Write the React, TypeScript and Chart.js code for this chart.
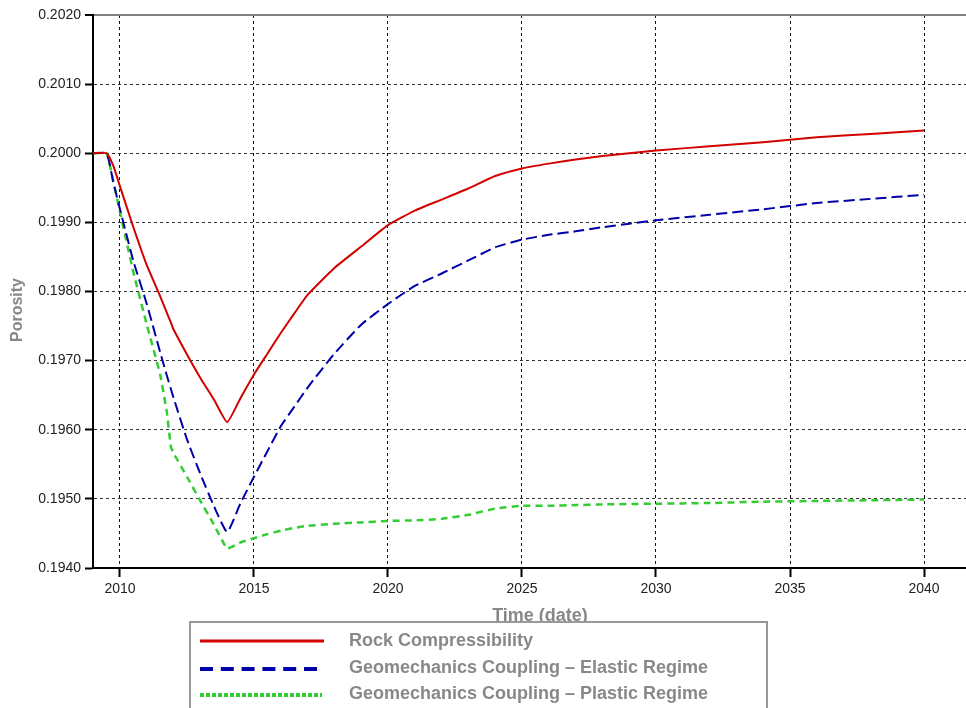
import React, { useEffect, useRef } from 'react';
import { Chart, registerables } from 'chart.js';

Chart.register(...registerables);

// ---- data ----
const years = [
  2009.0, 2009.5, 2009.75, 2010.0, 2010.5, 2011.0, 2011.5, 2011.75, 2011.9, 2012.0,
  2012.5, 2013.0, 2013.5, 2014.0, 2014.5, 2015.0, 2015.5, 2016.0, 2016.5, 2017.0,
  2018, 2019, 2020, 2021, 2022, 2023, 2024, 2025, 2026, 2027, 2028,
  2030, 2032, 2034, 2036, 2038, 2040,
];

const rockCompressibility = [
  0.2000, 0.2000, 0.19982, 0.19952, 0.19893, 0.19838, 0.19793, 0.19769, 0.19755, 0.19745,
  0.19709, 0.19675, 0.19644, 0.19611, 0.19646, 0.19680, 0.19710, 0.19740, 0.19768, 0.19795,
  0.19834, 0.19865, 0.19896, 0.19917, 0.19933, 0.19949, 0.19967, 0.19978, 0.19985, 0.19991, 0.19996,
  0.20004, 0.20010, 0.20016, 0.20023, 0.20028, 0.20033,
];

const elasticRegime = [
  0.2000, 0.2000, 0.19958, 0.19919, 0.19844, 0.19782, 0.19712, 0.19678, 0.19659, 0.19646,
  0.19586, 0.19536, 0.19490, 0.19452, 0.19494, 0.19532, 0.19569, 0.19605, 0.19633, 0.19661,
  0.19710, 0.19752, 0.19782, 0.19808, 0.19826, 0.19845, 0.19864, 0.19875, 0.19882, 0.19887, 0.19893,
  0.19903, 0.19911, 0.19919, 0.19928, 0.19934, 0.19940,
];

const plasticRegime = [
  0.2000, 0.2000, 0.19960, 0.19915, 0.19828, 0.19752, 0.19680, 0.19625, 0.19575, 0.19566,
  0.19532, 0.19497, 0.19463, 0.19428, 0.19437, 0.19443, 0.19449, 0.19454, 0.19458, 0.19461,
  0.19464, 0.19466, 0.19468, 0.19469, 0.19471, 0.19477, 0.19486, 0.19490, 0.19490, 0.19491, 0.19492,
  0.19493, 0.19494, 0.19496, 0.19497, 0.19498, 0.19499,
];

const seriesLabels = [
  'Rock Compressibility',
  'Geomechanics Coupling – Elastic Regime',
  'Geomechanics Coupling – Plastic Regime',
];

const xTitle = 'Time (date)';
const yTitle = 'Porosity';

const X_MIN = 2008.993;
const X_MAX = 2041.567;
const X_STEP = 5;
const Y_MIN = 0.194;
const Y_MAX = 0.202;
const Y_STEP = 0.001;

// ---- styles ----
const FONT = '"Liberation Sans", Arial, Helvetica, sans-serif';
const RED = '#d40000';
const BLUE = '#0000a8';
const GREEN = '#33cc33';

const legendStyles = [
  { color: RED, width: 3, dash: [] as number[], x2: 324 },
  { color: BLUE, width: 4, dash: [13, 7.8], x2: 318 },
  { color: GREEN, width: 4, dash: [4, 2], x2: 322 },
];

const toXY = (vals: number[]) => years.map((y, i) => ({ x: y, y: vals[i] }));

const overlayPlugin = {
  id: 'overlay',
  afterDraw(chart: any) {
    const ctx: CanvasRenderingContext2D = chart.ctx;
    ctx.save();
    // axis titles
    ctx.fillStyle = '#888888';
    ctx.textAlign = 'center';
    ctx.textBaseline = 'middle';
    ctx.font = `bold 16px ${FONT}`;
    ctx.save();
    ctx.translate(18, 310);
    ctx.rotate(-Math.PI / 2);
    ctx.fillText(yTitle, 0, 0);
    ctx.restore();
    ctx.font = `bold 18px ${FONT}`;
    ctx.textBaseline = 'alphabetic';
    ctx.fillText(xTitle, 540, 621);

    // legend box
    ctx.fillStyle = '#ffffff';
    ctx.fillRect(190, 622, 577, 120);
    ctx.strokeStyle = '#999999';
    ctx.lineWidth = 2;
    ctx.strokeRect(190, 622, 577, 120);

    const rowsLine = [641, 669, 695];
    const rowsText = [646, 673, 699];
    chart.data.datasets.forEach((ds: any, i: number) => {
      const st = legendStyles[i];
      ctx.save();
      ctx.strokeStyle = st.color;
      ctx.lineWidth = st.width;
      ctx.setLineDash(st.dash);
      ctx.beginPath();
      ctx.moveTo(200, rowsLine[i]);
      ctx.lineTo(st.x2, rowsLine[i]);
      ctx.stroke();
      ctx.restore();
      ctx.fillStyle = '#888888';
      ctx.font = `bold 18px ${FONT}`;
      ctx.textAlign = 'left';
      ctx.textBaseline = 'alphabetic';
      ctx.fillText(ds.label, 349, rowsText[i]);
    });
    ctx.restore();
  },
};

export default function App() {
  const canvasRef = useRef<HTMLCanvasElement | null>(null);

  useEffect(() => {
    if (!canvasRef.current) return;
    const isTop = (c: any) => c.tick && Math.abs(c.tick.value - Y_MAX) < 1e-7;
    const chart = new Chart(canvasRef.current, {
      type: 'line',
      data: {
        datasets: [
          {
            label: seriesLabels[0],
            data: toXY(rockCompressibility),
            borderColor: RED,
            borderWidth: 2,
            pointRadius: 0,
            tension: 0.15,
            fill: false,
          },
          {
            label: seriesLabels[1],
            data: toXY(elasticRegime),
            borderColor: BLUE,
            borderWidth: 2,
            borderDash: [11, 5],
            pointRadius: 0,
            tension: 0.15,
            fill: false,
          },
          {
            label: seriesLabels[2],
            data: toXY(plasticRegime),
            borderColor: GREEN,
            borderWidth: 2.5,
            borderDash: [7, 5],
            pointRadius: 0,
            tension: 0.1,
            fill: false,
          },
        ],
      },
      options: {
        animation: false,
        responsive: false,
        devicePixelRatio: 1,
        layout: { padding: { left: 0, top: 15, right: 0, bottom: 0 } },
        plugins: {
          legend: { display: false },
          tooltip: { enabled: false },
        },
        scales: {
          x: {
            type: 'linear',
            min: X_MIN,
            max: X_MAX,
            afterFit: (s: any) => { s.height = 140; },
            ticks: {
              stepSize: X_STEP,
              includeBounds: false,
              autoSkip: false,
              maxRotation: 0,
              padding: 4,
              color: '#222222',
              font: { family: FONT, size: 14 },
              callback: (v: any) => String(Math.round(Number(v))),
            },
            grid: {
              color: '#111111',
              lineWidth: 1,
              drawTicks: true,
              tickLength: 9,
              tickColor: '#000000',
              tickWidth: 2,
            },
            border: { display: true, color: '#000000', width: 2, dash: [3, 3] },
          },
          y: {
            type: 'linear',
            min: Y_MIN,
            max: Y_MAX,
            afterFit: (s: any) => { s.width = 93; },
            ticks: {
              stepSize: Y_STEP,
              includeBounds: false,
              padding: 4,
              color: '#222222',
              font: { family: FONT, size: 14 },
              callback: (v: any) => Number(v).toFixed(4),
            },
            grid: {
              color: (c: any) => (isTop(c) ? '#808080' : '#333333'),
              lineWidth: (c: any) => (isTop(c) ? 2 : 1),
              drawTicks: true,
              tickLength: 8,
              tickColor: '#000000',
              tickWidth: 2,
            },
            border: {
              display: true,
              color: '#000000',
              width: 2,
              dash: (c: any) => (isTop(c) ? [] : [3, 3]),
            },
          },
        },
      },
      plugins: [overlayPlugin],
    } as any);
    return () => chart.destroy();
  }, []);

  return (
    <div style={{ position: 'absolute', left: 0, top: 0, width: 966, height: 708, background: '#fff' }}>
      <canvas ref={canvasRef} width={966} height={708} style={{ display: 'block' }} />
    </div>
  );
}
